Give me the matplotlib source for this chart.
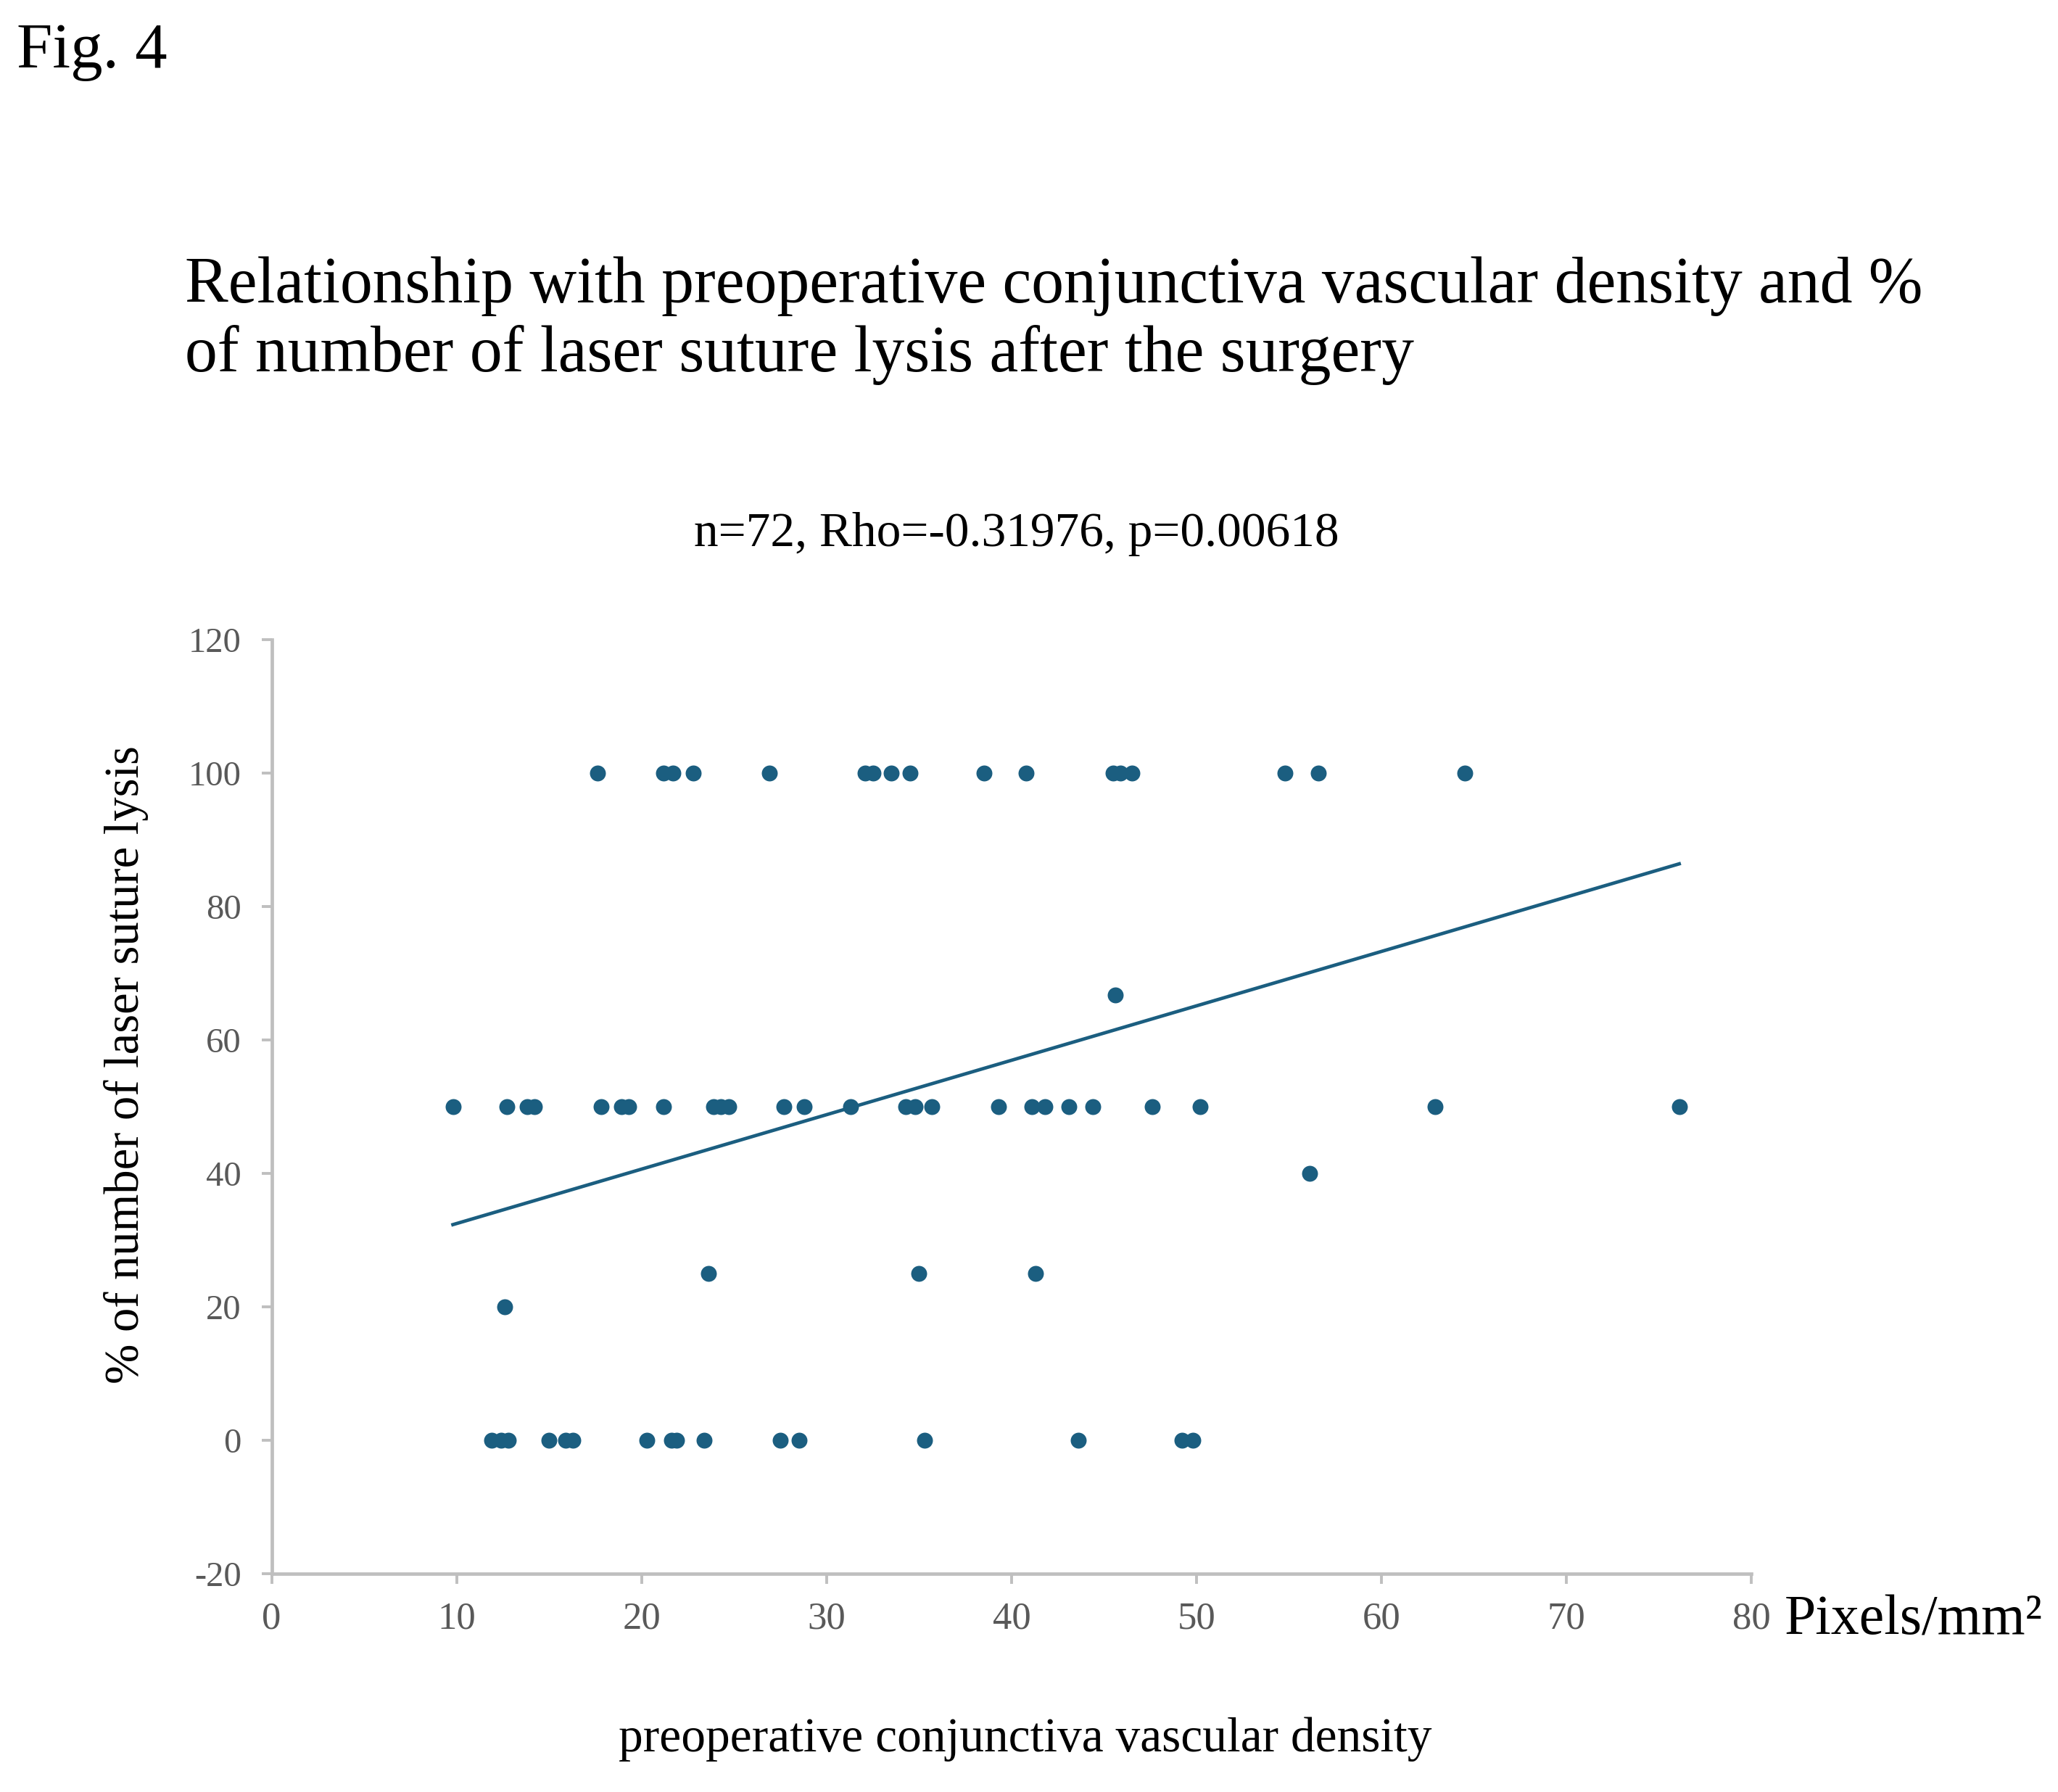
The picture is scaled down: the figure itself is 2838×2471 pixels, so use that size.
import numpy as np
import matplotlib
matplotlib.use("Agg")
from matplotlib import pyplot as plt

plt.rcParams['font.family'] = ['Liberation Serif', 'DejaVu Serif']
plt.rcParams['axes.unicode_minus'] = False

# values
x_100 = [17.6, 21.2, 21.7, 22.8, 26.9, 32.1, 32.5, 33.5, 34.5, 38.5, 40.8,
         45.5, 45.9, 46.5, 54.8, 56.6, 64.5]
x_50 = [9.8, 12.7, 13.8, 14.2, 17.8, 18.9, 19.3, 21.2, 23.9, 24.3, 24.7,
        27.7, 28.8, 31.3, 34.3, 34.8, 35.7, 39.3, 41.1, 41.8, 43.1, 44.4,
        47.6, 50.2, 62.9, 76.1]
x_0 = [11.9, 12.4, 12.8, 15.0, 15.9, 16.3, 20.3, 21.6, 21.9, 23.4, 27.5,
       28.5, 35.3, 43.6, 49.2, 49.8]
x_other = [45.6, 56.1, 23.6, 35.0, 41.3, 12.6]
y_other = [66.7, 40, 25, 25, 25, 20]

# regression line as drawn in the figure
trend_slope = 0.816
trend_intercept = 24.3

x_ticks = [0, 10, 20, 30, 40, 50, 60, 70, 80]
y_ticks = [-20, 0, 20, 40, 60, 80, 100, 120]

x = np.array(x_100 + x_50 + x_0 + x_other)
y = np.array([100] * len(x_100) + [50] * len(x_50) + [0] * len(x_0) + y_other)

dot_color = '#1b5e80'
axis_gray = '#bfbfbf'
tick_gray = '#595959'

fig = plt.figure(figsize=(28.38, 24.71), dpi=100)
ax = fig.add_axes([0.132, 0.122, 0.719, 0.521])

ax.scatter(x, y, s=250, color=dot_color, zorder=3, linewidths=0)
xl = np.array([x.min(), x.max()])
ax.plot(xl, trend_intercept + trend_slope * xl, color=dot_color, lw=3.4, zorder=2)

ax.set_xlim(0, 80)
ax.set_ylim(-20, 120)
ax.set_xticks(x_ticks)
ax.set_yticks(y_ticks)
for s in ['top', 'right']:
    ax.spines[s].set_visible(False)
for s in ['left', 'bottom']:
    ax.spines[s].set_color(axis_gray)
    ax.spines[s].set_linewidth(3.4)
ax.tick_params(axis='both', color=axis_gray, width=2.8, length=10,
               labelcolor=tick_gray)
ax.tick_params(axis='y', pad=20, labelsize=35)
ax.tick_params(axis='x', pad=18, labelsize=38)

ax.set_ylabel('% of number of laser suture lysis', fontsize=48)
ax.yaxis.set_label_coords(-0.083, 0.545)

fig.text(0.008, 0.971, 'Fig. 4', fontsize=64, va='center', ha='left')
fig.text(0.09, 0.821, 'Relationship with preoperative conjunctiva vascular density and %\n'
         'of number of laser suture lysis after the surgery',
         fontsize=64.5, va='center', ha='left', linespacing=1.2)
fig.text(0.494, 0.702, 'n=72, Rho=-0.31976, p=0.00618', fontsize=48.5,
         va='center', ha='center')
fig.text(0.498, 0.0295, 'preoperative conjunctiva vascular density', fontsize=48.5,
         va='center', ha='center')
fig.text(0.867, 0.0955, 'Pixels/mm²', fontsize=56, va='center', ha='left')

fig.savefig('out.png', dpi=100, facecolor='white')
